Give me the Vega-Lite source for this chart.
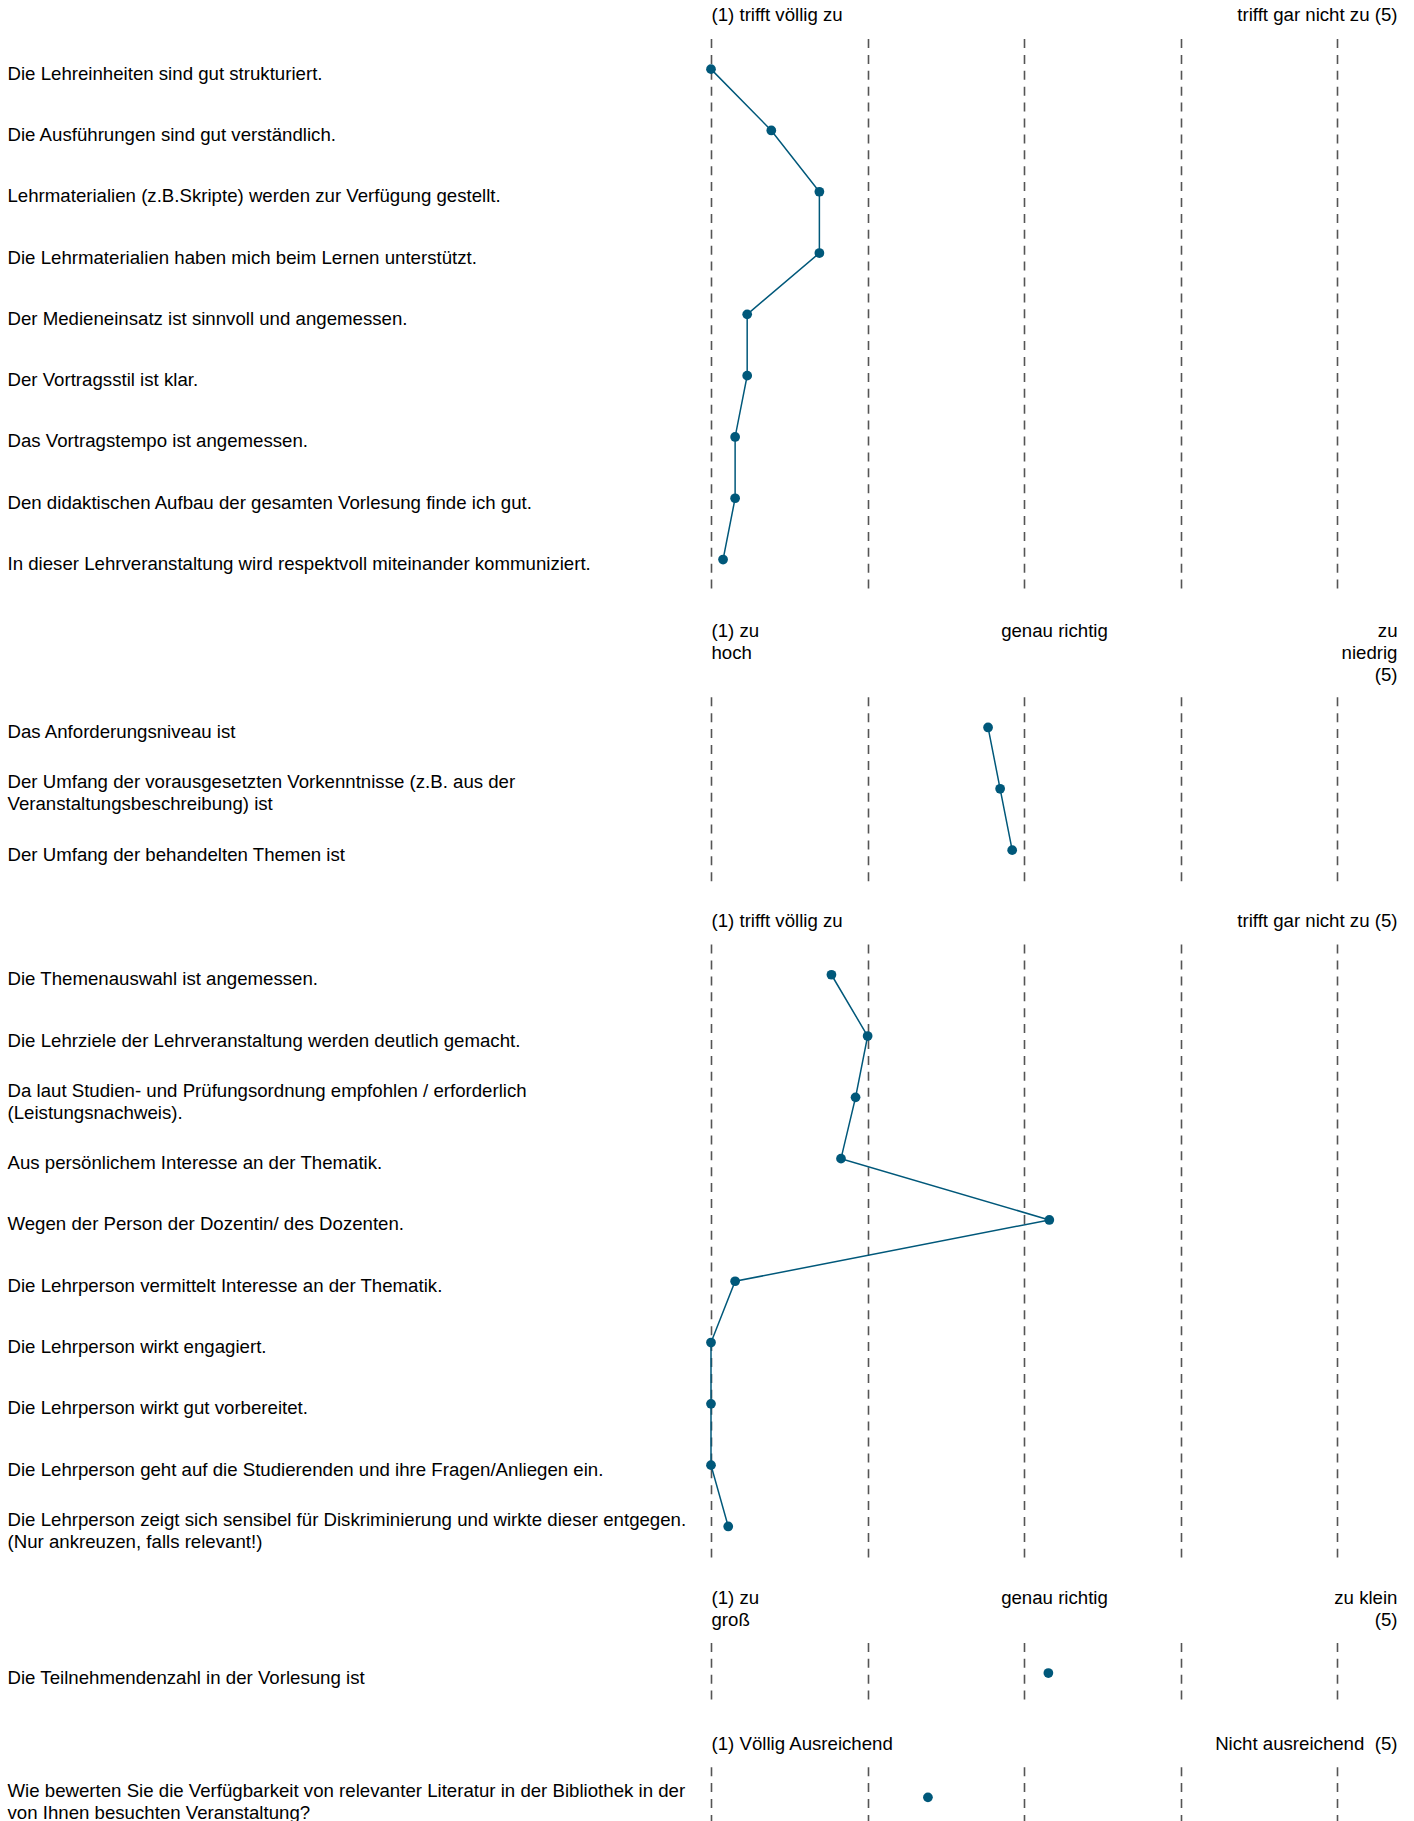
{
  "$schema": "https://vega.github.io/schema/vega-lite/v6.json",
  "background": "white",
  "padding": {"left": 7, "top": 5.5, "right": 10, "bottom": 0},
  "spacing": 30.3,
  "config": {
    "view": {"stroke": null},
    "font": "Liberation Sans",
    "axis": {
      "labelFont": "Liberation Sans",
      "labelFontSize": 18.65,
      "labelColor": "#000000",
      "labelLineHeight": 22,
      "domain": false,
      "ticks": false,
      "tickSize": 0
    }
  },
  "datasets": {
    "p1": [
      {"i": 1, "q": "Die Lehreinheiten sind gut strukturiert.", "v": 1.0},
      {"i": 2, "q": "Die Ausführungen sind gut verständlich.", "v": 1.385},
      {"i": 3, "q": "Lehrmaterialien (z.B.Skripte) werden zur Verfügung gestellt.", "v": 1.692},
      {"i": 4, "q": "Die Lehrmaterialien haben mich beim Lernen unterstützt.", "v": 1.692},
      {"i": 5, "q": "Der Medieneinsatz ist sinnvoll und angemessen.", "v": 1.231},
      {"i": 6, "q": "Der Vortragsstil ist klar.", "v": 1.231},
      {"i": 7, "q": "Das Vortragstempo ist angemessen.", "v": 1.154},
      {"i": 8, "q": "Den didaktischen Aufbau der gesamten Vorlesung finde ich gut.", "v": 1.154},
      {"i": 9, "q": "In dieser Lehrveranstaltung wird respektvoll miteinander kommuniziert.", "v": 1.077}
    ],
    "p2": [
      {"i": 1, "q": "Das Anforderungsniveau ist", "v": 2.769},
      {"i": 2, "q": "Der Umfang der vorausgesetzten Vorkenntnisse (z.B. aus der\nVeranstaltungsbeschreibung) ist", "v": 2.846},
      {"i": 3, "q": "Der Umfang der behandelten Themen ist", "v": 2.923}
    ],
    "p3": [
      {"i": 1, "q": "Die Themenauswahl ist angemessen.", "v": 1.769},
      {"i": 2, "q": "Die Lehrziele der Lehrveranstaltung werden deutlich gemacht.", "v": 2.0},
      {"i": 3, "q": "Da laut Studien- und Prüfungsordnung empfohlen / erforderlich\n(Leistungsnachweis).", "v": 1.923},
      {"i": 4, "q": "Aus persönlichem Interesse an der Thematik.", "v": 1.83},
      {"i": 5, "q": "Wegen der Person der Dozentin/ des Dozenten.", "v": 3.16},
      {"i": 6, "q": "Die Lehrperson vermittelt Interesse an der Thematik.", "v": 1.154},
      {"i": 7, "q": "Die Lehrperson wirkt engagiert.", "v": 1.0},
      {"i": 8, "q": "Die Lehrperson wirkt gut vorbereitet.", "v": 1.0},
      {"i": 9, "q": "Die Lehrperson geht auf die Studierenden und ihre Fragen/Anliegen ein.", "v": 1.0},
      {"i": 10, "q": "Die Lehrperson zeigt sich sensibel für Diskriminierung und wirkte dieser entgegen.\n(Nur ankreuzen, falls relevant!)", "v": 1.11}
    ],
    "p4": [
      {"i": 1, "q": "Die Teilnehmendenzahl in der Vorlesung ist", "v": 3.154}
    ],
    "p5": [
      {"i": 1, "q": "Wie bewerten Sie die Verfügbarkeit von relevanter Literatur in der Bibliothek in der\nvon Ihnen besuchten Veranstaltung?", "v": 2.385}
    ]
  },
  "vconcat": [
    {
      "data": {"name": "p1"},
      "width": 686,
      "height": 551.7,
      "encoding": {
        "y": {"field": "q", "type": "nominal", "sort": null, "scale": {"type": "point", "padding": 0.5},
              "axis": {"orient": "left", "labelAlign": "left", "labelBaseline": "middle", "labelPadding": 704, "labelLimit": 1000, "labelOverlap": false, "labelExpr": "split(datum.label, '\\n')", "title": null,
                       "labelOffset": {"condition": {"test": "indexof(datum.value, '\\n') >= 0", "value": -7}, "value": 4}}}
      },
      "resolve": {"axis": {"x": "independent"}},
      "layer": [
        {
          "mark": {"type": "line", "color": "#00587a", "strokeWidth": 1.5},
          "encoding": {
            "x": {"field": "v", "type": "quantitative", "scale": {"domain": [1, 5.38], "nice": false, "zero": false},
                  "axis": {"orient": "bottom", "values": [1, 2, 3, 4, 5], "grid": true, "gridDash": [9, 6.9], "gridDashOffset": 13.8, "gridColor": "#555555", "gridWidth": 1.6, "labels": false, "title": null}},
            "order": {"field": "i"}
          }
        },
        {
          "mark": {"type": "circle", "color": "#00587a", "opacity": 1, "size": 95},
          "encoding": {
            "x": {"field": "v", "type": "quantitative",
                  "axis": {"orient": "top", "values": [1, 5.38], "grid": false, "labelFlush": true, "labelFlushOffset": 0, "labelBaseline": "top", "labelPadding": 33, "labelOverlap": false, "labelLimit": 1000, "title": null,
                           "labelExpr": "datum.value < 2 ? '(1) trifft völlig zu' : 'trifft gar nicht zu (5)'"}}
          }
        }
      ]
    },
    {
      "data": {"name": "p2"},
      "width": 686,
      "height": 184,
      "encoding": {
        "y": {"field": "q", "type": "nominal", "sort": null, "scale": {"type": "point", "padding": 0.5},
              "axis": {"orient": "left", "labelAlign": "left", "labelBaseline": "middle", "labelPadding": 704, "labelLimit": 1000, "labelOverlap": false, "labelExpr": "split(datum.label, '\\n')", "title": null,
                       "labelOffset": {"condition": {"test": "indexof(datum.value, '\\n') >= 0", "value": -7}, "value": 4}}}
      },
      "resolve": {"axis": {"x": "independent"}},
      "layer": [
        {
          "mark": {"type": "line", "color": "#00587a", "strokeWidth": 1.5},
          "encoding": {
            "x": {"field": "v", "type": "quantitative", "scale": {"domain": [1, 5.38], "nice": false, "zero": false},
                  "axis": {"orient": "bottom", "values": [1, 2, 3, 4, 5], "grid": true, "gridDash": [9, 6.9], "gridDashOffset": 15.8, "gridColor": "#555555", "gridWidth": 1.6, "labels": false, "title": null}},
            "order": {"field": "i"}
          }
        },
        {
          "mark": {"type": "circle", "color": "#00587a", "opacity": 1, "size": 95},
          "encoding": {
            "x": {"field": "v", "type": "quantitative",
                  "axis": {"orient": "top", "values": [1, 3.19, 5.38], "grid": false, "labelFlush": true, "labelFlushOffset": 0, "labelBaseline": "top", "labelPadding": 75.3, "labelOverlap": false, "labelLimit": 1000, "title": null,
                           "labelExpr": "datum.value < 2 ? ['(1) zu', 'hoch'] : datum.value > 5 ? ['zu', 'niedrig', '(5)'] : 'genau richtig'"}}
          }
        }
      ]
    },
    {
      "data": {"name": "p3"},
      "width": 686,
      "height": 613,
      "encoding": {
        "y": {"field": "q", "type": "nominal", "sort": null, "scale": {"type": "point", "padding": 0.5},
              "axis": {"orient": "left", "labelAlign": "left", "labelBaseline": "middle", "labelPadding": 704, "labelLimit": 1000, "labelOverlap": false, "labelExpr": "split(datum.label, '\\n')", "title": null,
                       "labelOffset": {"condition": {"test": "indexof(datum.value, '\\n') >= 0", "value": -7}, "value": 4}}}
      },
      "resolve": {"axis": {"x": "independent"}},
      "layer": [
        {
          "mark": {"type": "line", "color": "#00587a", "strokeWidth": 1.5},
          "encoding": {
            "x": {"field": "v", "type": "quantitative", "scale": {"domain": [1, 5.38], "nice": false, "zero": false},
                  "axis": {"orient": "bottom", "values": [1, 2, 3, 4, 5], "grid": true, "gridDash": [9, 6.9], "gridDashOffset": 0.2, "gridColor": "#555555", "gridWidth": 1.6, "labels": false, "title": null}},
            "order": {"field": "i"}
          }
        },
        {
          "mark": {"type": "circle", "color": "#00587a", "opacity": 1, "size": 95},
          "encoding": {
            "x": {"field": "v", "type": "quantitative",
                  "axis": {"orient": "top", "values": [1, 5.38], "grid": false, "labelFlush": true, "labelFlushOffset": 0, "labelBaseline": "top", "labelPadding": 33, "labelOverlap": false, "labelLimit": 1000, "title": null,
                           "labelExpr": "datum.value < 2 ? '(1) trifft völlig zu' : 'trifft gar nicht zu (5)'"}}
          }
        }
      ]
    },
    {
      "data": {"name": "p4"},
      "width": 686,
      "height": 61.3,
      "encoding": {
        "y": {"field": "q", "type": "nominal", "sort": null, "scale": {"type": "point", "padding": 0.5},
              "axis": {"orient": "left", "labelAlign": "left", "labelBaseline": "middle", "labelPadding": 704, "labelLimit": 1000, "labelOverlap": false, "labelExpr": "split(datum.label, '\\n')", "title": null,
                       "labelOffset": {"condition": {"test": "indexof(datum.value, '\\n') >= 0", "value": -7}, "value": 4}}}
      },
      "resolve": {"axis": {"x": "independent"}},
      "layer": [
        {
          "mark": {"type": "line", "color": "#00587a", "strokeWidth": 1.5},
          "encoding": {
            "x": {"field": "v", "type": "quantitative", "scale": {"domain": [1, 5.38], "nice": false, "zero": false},
                  "axis": {"orient": "bottom", "values": [1, 2, 3, 4, 5], "grid": true, "gridDash": [9, 6.9], "gridDashOffset": 11.3, "gridColor": "#555555", "gridWidth": 1.6, "labels": false, "title": null}},
            "order": {"field": "i"}
          }
        },
        {
          "mark": {"type": "circle", "color": "#00587a", "opacity": 1, "size": 95},
          "encoding": {
            "x": {"field": "v", "type": "quantitative",
                  "axis": {"orient": "top", "values": [1, 3.19, 5.38], "grid": false, "labelFlush": true, "labelFlushOffset": 0, "labelBaseline": "top", "labelPadding": 54.2, "labelOverlap": false, "labelLimit": 1000, "title": null,
                           "labelExpr": "datum.value < 2 ? ['(1) zu', 'groß'] : datum.value > 5 ? ['zu klein', '(5)'] : 'genau richtig'"}}
          }
        }
      ]
    },
    {
      "data": {"name": "p5"},
      "width": 686,
      "height": 61.3,
      "encoding": {
        "y": {"field": "q", "type": "nominal", "sort": null, "scale": {"type": "point", "padding": 0.5},
              "axis": {"orient": "left", "labelAlign": "left", "labelBaseline": "middle", "labelPadding": 704, "labelLimit": 1000, "labelOverlap": false, "labelExpr": "split(datum.label, '\\n')", "title": null,
                       "labelOffset": {"condition": {"test": "indexof(datum.value, '\\n') >= 0", "value": -7}, "value": 4}}}
      },
      "resolve": {"axis": {"x": "independent"}},
      "layer": [
        {
          "mark": {"type": "line", "color": "#00587a", "strokeWidth": 1.5},
          "encoding": {
            "x": {"field": "v", "type": "quantitative", "scale": {"domain": [1, 5.38], "nice": false, "zero": false},
                  "axis": {"orient": "bottom", "values": [1, 2, 3, 4, 5], "grid": true, "gridDash": [9, 6.9], "gridDashOffset": 11.3, "gridColor": "#555555", "gridWidth": 1.6, "labels": false, "title": null}},
            "order": {"field": "i"}
          }
        },
        {
          "mark": {"type": "circle", "color": "#00587a", "opacity": 1, "size": 95},
          "encoding": {
            "x": {"field": "v", "type": "quantitative",
                  "axis": {"orient": "top", "values": [1, 5.38], "grid": false, "labelFlush": true, "labelFlushOffset": 0, "labelBaseline": "top", "labelPadding": 32, "labelOverlap": false, "labelLimit": 1000, "title": null,
                           "labelExpr": "datum.value < 2 ? '(1) Völlig Ausreichend' : 'Nicht ausreichend\u00a0 (5)'"}}
          }
        }
      ]
    }
  ]
}
